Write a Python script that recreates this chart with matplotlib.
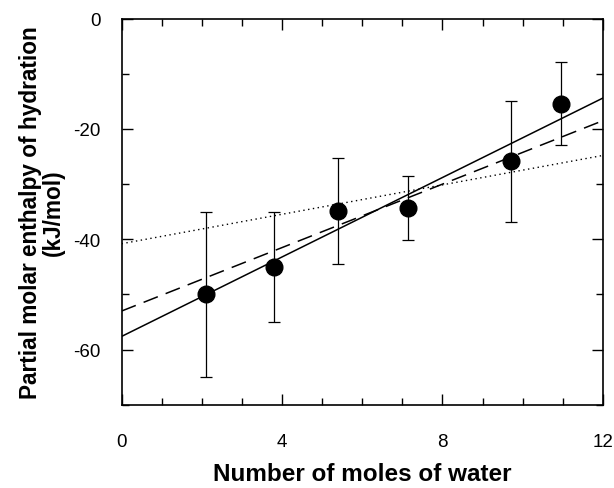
import numpy as np
import matplotlib.pyplot as plt
from matplotlib.ticker import MultipleLocator

# data
water = [2.1, 3.8, 5.4, 7.15, 9.7, 10.95]
enthalpy = [-50.0, -45.0, -34.8, -34.4, -25.9, -15.4]
err = [15.0, 10.0, 9.6, 5.8, 10.9, 7.5]

# fitted lines: (intercept at x=0, value at x=12)
solid_ends = [-57.6, -14.4]
dashed_ends = [-53.0, -18.5]
dotted_ends = [-40.8, -24.8]
line_x = [0, 12]

plt.rcParams['font.family'] = ['Liberation Sans', 'DejaVu Sans']
plt.rcParams['axes.unicode_minus'] = False

fig = plt.figure(figsize=(6.14, 4.89), dpi=100)
ax = fig.add_axes([0.198, 0.170, 0.784, 0.790])

ax.plot(line_x, solid_ends, '-', color='black', lw=1.1)
ax.plot(line_x, dashed_ends, color='black', lw=1.1, dashes=(10, 5.5))
ax.plot(line_x, dotted_ends, color='black', lw=1.0, dashes=(1, 2.5))

ax.errorbar(water, enthalpy, yerr=err, fmt='o', color='black', ms=12,
            ecolor='black', elinewidth=0.9, capsize=4.5, capthick=0.9, zorder=3)

ax.set_xlim(0, 12)
ax.set_ylim(-70, 0)
ax.xaxis.set_major_locator(MultipleLocator(4))
ax.xaxis.set_minor_locator(MultipleLocator(1))
ax.yaxis.set_major_locator(MultipleLocator(20))
ax.yaxis.set_minor_locator(MultipleLocator(10))
ax.tick_params(which='both', direction='in', top=True, right=True, labelsize=13.5, width=1)
ax.tick_params(which='major', length=8)
ax.tick_params(which='minor', length=5)
ax.tick_params(axis='x', which='major', pad=20)
ax.tick_params(axis='y', which='major', pad=15)
for s in ax.spines.values():
    s.set_linewidth(1.2)

ax.set_xlabel('Number of moles of water', fontsize=17.5, fontweight='bold', labelpad=9)
ax.set_ylabel('Partial molar enthalpy of hydration\n(kJ/mol)', fontsize=16.3,
              fontweight='bold', labelpad=6, linespacing=1.0)

fig.savefig('out.png', dpi=100)
